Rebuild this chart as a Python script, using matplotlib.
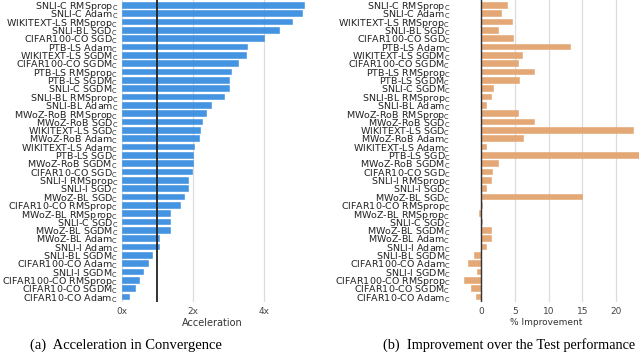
import matplotlib
matplotlib.use("Agg")
import matplotlib.pyplot as plt
import numpy as np

# ---- data ----
accel_labels = [
    "SNLI-C RMSprop", "SNLI-C Adam", "WIKITEXT-LS RMSprop", "SNLI-BL SGD",
    "CIFAR100-CO SGD", "PTB-LS Adam", "WIKITEXT-LS SGDM", "CIFAR100-CO SGDM",
    "PTB-LS RMSprop", "PTB-LS SGDM", "SNLI-C SGDM", "SNLI-BL RMSprop",
    "SNLI-BL Adam", "MWoZ-RoB RMSprop", "MWoZ-RoB SGD", "WIKITEXT-LS SGD",
    "MWoZ-RoB Adam", "WIKITEXT-LS Adam", "PTB-LS SGD", "MWoZ-RoB SGDM",
    "CIFAR10-CO SGD", "SNLI-I RMSprop", "SNLI-I SGD", "MWoZ-BL SGD",
    "CIFAR10-CO RMSprop", "MWoZ-BL RMSprop", "SNLI-C SGD", "MWoZ-BL SGDM",
    "MWoZ-BL Adam", "SNLI-I Adam", "SNLI-BL SGDM", "CIFAR100-CO Adam",
    "SNLI-I SGDM", "CIFAR100-CO RMSprop", "CIFAR10-CO SGDM", "CIFAR10-CO Adam",
]
accel_values = [
    5.13, 5.06, 4.78, 4.41, 4.00, 3.52, 3.50, 3.28, 3.07, 3.00, 3.00, 2.86,
    2.50, 2.37, 2.25, 2.21, 2.17, 2.03, 1.99, 1.99, 1.97, 1.87, 1.87, 1.76,
    1.64, 1.35, 1.35, 1.35, 1.06, 1.04, 0.86, 0.75, 0.59, 0.49, 0.37, 0.19,
]
improv_values = [
    3.77, 2.93, 4.61, 2.53, 4.71, 13.1, 6.05, 5.40, 7.88, 5.55, 1.69, 1.49,
    0.65, 5.40, 7.88, 22.6, 6.25, 0.65, 23.4, 2.43, 1.59, 1.49, 0.75, 14.9,
    0.10, -0.35, 0.10, 1.49, 1.49, 0.75, -1.04, -1.98, -0.64, -2.57, -1.53, -0.79,
]
accel_ticks = [0, 2, 4]
accel_ticklabels = ["0x", "2x", "4x"]
improv_ticks = [0, 5, 10, 15, 20]

blue = "#3a8ee0"
orange = "#e2a46f"
grid_c = "#dcdcdc"

fig = plt.figure(figsize=(6.4, 3.57), dpi=100)
axA = fig.add_axes([0.1875, 0.155, 0.2891, 0.845])
axB = fig.add_axes([0.7069, 0.155, 0.2923, 0.845])

labels = [l + r"$_{\mathrm{C}}$" for l in accel_labels]
y = np.arange(len(labels))

for ax, vals, col in [(axA, accel_values, blue), (axB, improv_values, orange)]:
    ax.barh(y, vals, height=0.68, color=col, edgecolor=col, linewidth=0.4, alpha=0.95, zorder=2)
    ax.set_yticks(y)
    ax.set_yticklabels(labels, fontsize=6.8, color="#222222")
    ax.set_ylim(35.6, -0.6)
    for s in ax.spines.values():
        s.set_visible(False)
    ax.tick_params(axis="y", length=0, pad=1.5)
    ax.tick_params(axis="x", length=0, pad=3.5)
    ax.grid(axis="x", color=grid_c, linewidth=0.9, zorder=0)
    ax.set_axisbelow(True)
    ax.set_facecolor("white")

axA.set_xlim(-0.05, 5.15)
axA.set_xticks(accel_ticks)
axA.set_xticklabels(accel_ticklabels, fontsize=6.5, color="#444444")
axA.axvline(1, color="#222222", linewidth=1.3, zorder=3)
axA.set_xlabel("Acceleration", fontsize=7, color="#333333", labelpad=1.5)

axB.set_xlim(-4.3, 23.5)
axB.set_xticks(improv_ticks)
axB.set_xticklabels([str(t) for t in improv_ticks], fontsize=6.5, color="#444444")
axB.axvline(0, color="#333333", linewidth=1.0, zorder=3)
axB.set_xlabel("% Improvement", fontsize=6.5, color="#333333", labelpad=1.5)

fig.text(0.196, 0.033, "(a)  Acceleration in Convergence", family="Liberation Serif",
         fontsize=10.5, ha="center", va="center")
fig.text(0.796, 0.033, "(b)  Improvement over the Test performance", family="Liberation Serif",
         fontsize=10.3, ha="center", va="center")

fig.savefig("out.png", dpi=100)
